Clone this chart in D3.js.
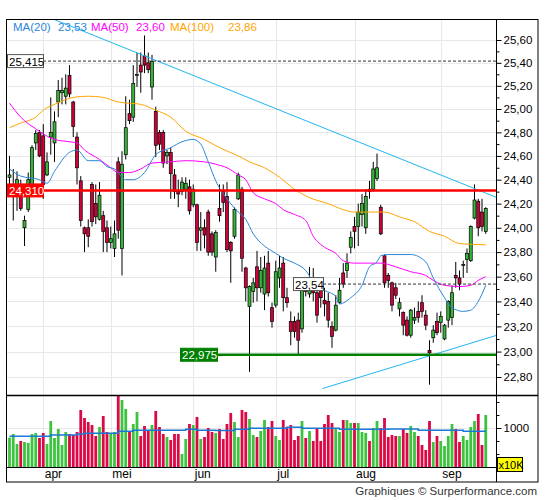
<!DOCTYPE html>
<html>
<head>
<meta charset="utf-8">
<script src="https://cdn.jsdelivr.net/npm/d3@7"></script>
<style>
body { margin: 0; background: #fff; }
text { font-family: "Liberation Sans", Arial, sans-serif; }
</style>
</head>
<body>
<svg width="545" height="500"></svg>
<script>
// daily candles, one row per trading day: [open, high, low, close]
var candles = [
  [24.42,24.60,24.26,24.44],[24.26,24.49,24.06,24.35],[24.28,24.47,24.14,24.40],[24.29,24.40,24.14,24.16],
  [24.00,24.10,23.85,24.06],[24.15,24.46,24.13,24.40],[24.32,24.69,24.30,24.67],[24.71,24.82,24.65,24.79],
  [24.80,24.82,24.59,24.60],[24.77,24.87,24.24,24.36],[24.44,24.63,24.43,24.55],[24.76,25.10,24.61,24.80],
  [24.71,24.98,24.55,24.89],[25.06,25.25,24.93,25.16],[25.14,25.27,25.04,25.16],[25.11,25.30,25.04,25.18],
  [25.29,25.38,25.10,25.13],[25.06,25.07,24.76,24.85],[24.76,24.80,24.36,24.50],[24.39,24.43,24.01,24.06],
  [24.00,24.01,23.80,23.95],[24.00,24.07,23.84,23.93],[24.36,24.38,24.01,24.05],[24.20,24.36,24.03,24.09],
  [24.07,24.38,24.06,24.27],[24.10,24.14,23.80,23.97],[24.00,24.06,23.80,23.88],[23.88,24.01,23.83,23.91],
  [23.83,24.06,23.76,23.95],[24.55,24.59,23.91,23.98],[23.83,24.64,23.61,24.53],[24.61,25.11,24.57,24.84],
  [24.96,25.08,24.87,24.90],[24.93,25.38,24.89,25.22],[25.29,25.49,25.19,25.30],[25.38,25.49,25.14,25.32],
  [25.46,25.64,25.31,25.38],[25.40,25.49,25.31,25.34],[25.19,25.47,25.08,25.41],[24.98,25.02,24.59,24.69],
  [24.80,24.82,24.65,24.70],[24.80,24.82,24.50,24.54],[24.60,24.65,24.53,24.63],[24.63,24.67,24.24,24.45],
  [24.44,24.49,24.24,24.30],[24.30,24.40,24.17,24.28],[24.30,24.42,24.27,24.38],[24.32,24.42,24.24,24.37],
  [24.34,24.40,24.11,24.14],[24.19,24.36,24.17,24.32],[24.19,24.20,23.81,23.88],[23.98,24.13,23.81,24.00],
  [24.00,24.07,23.83,23.94],[24.13,24.15,23.77,23.80],[23.95,23.97,23.77,23.80],[23.76,23.98,23.64,23.96],
  [24.16,24.36,24.05,24.10],[24.30,24.36,24.13,24.21],[24.26,24.38,23.80,23.82],[23.88,23.89,23.55,23.81],
  [23.93,24.17,23.91,24.15],[24.24,24.46,24.23,24.44],[24.32,24.34,23.64,23.75],[23.67,23.68,23.40,23.51],
  [23.36,23.53,22.84,23.52],[23.48,23.59,23.39,23.55],[23.68,23.81,23.40,23.51],[23.51,23.76,23.47,23.65],
  [23.46,23.77,23.33,23.67],[23.71,23.81,23.44,23.47],[23.35,23.39,23.19,23.24],[23.37,23.73,23.35,23.64],
  [23.59,23.77,23.51,23.67],[23.71,23.76,23.32,23.43],[23.43,23.51,23.35,23.39],[23.24,23.32,23.05,23.16],
  [23.24,23.28,23.11,23.16],[23.25,23.31,22.98,23.09],[23.18,23.56,23.15,23.49],[23.50,23.59,23.44,23.48],
  [23.46,23.68,23.43,23.51],[23.51,23.67,23.40,23.47],[23.47,23.53,23.23,23.29],[23.49,23.51,23.35,23.43],
  [23.41,23.51,23.28,23.38],[23.40,23.47,23.19,23.25],[23.20,23.24,23.03,23.12],[23.17,23.45,23.16,23.37],
  [23.39,23.59,23.38,23.49],[23.63,23.71,23.51,23.54],[23.65,23.79,23.59,23.71],[23.84,23.97,23.79,23.92],
  [24.01,24.09,23.83,23.97],[24.01,24.20,23.85,24.13],[24.11,24.28,24.01,24.20],[24.00,24.32,23.95,24.26],
  [24.32,24.39,24.24,24.30],[24.32,24.55,24.30,24.49],[24.41,24.62,24.39,24.50],[24.17,24.19,23.94,23.95],
  [23.77,23.78,23.51,23.55],[23.61,23.63,23.51,23.57],[23.55,23.56,23.32,23.37],[23.51,23.55,23.42,23.45],
  [23.34,23.43,23.28,23.39],[23.31,23.32,23.13,23.21],[23.25,23.28,23.12,23.13],[23.13,23.34,23.11,23.33],
  [23.25,23.35,23.22,23.27],[23.32,23.40,23.23,23.27],[23.39,23.45,23.27,23.32],[23.29,23.33,23.17,23.21],
  [23.01,23.09,22.74,22.99],[23.11,23.21,23.07,23.17],[23.24,23.31,23.13,23.15],[23.23,23.32,23.15,23.28],
  [23.10,23.22,23.09,23.21],[23.25,23.41,23.19,23.40],[23.27,23.53,23.21,23.47],[23.61,23.72,23.51,23.59],
  [23.59,23.65,23.49,23.54],[23.69,23.73,23.59,23.70],[23.74,23.83,23.63,23.79],[23.73,24.02,23.72,24.01],
  [24.08,24.36,24.07,24.23],[24.22,24.24,23.93,24.00],[24.13,24.24,23.97,24.01],[23.97,24.17,23.95,24.16]
];

// volume per day, in units of 10K shares
var volumes = [
  752,846,590,667,641,615,846,872,744,872,590,1179,744,974,564,897,846,820,897,1462,
  1256,1154,1077,795,1026,1308,897,872,897,1846,1718,1487,923,1103,1410,795,1051,949,1077,1436,
  1026,846,769,692,846,846,333,718,1103,1077,1282,718,769,1000,897,872,974,718,1103,1385,
  1154,769,1462,1410,1231,820,769,923,1205,1026,1179,795,692,1205,1026,1077,692,795,1179,744,
  923,667,1000,667,1103,1333,1128,1000,897,1205,1205,1128,1128,1128,897,872,667,1000,1179,1000,
  1256,769,820,795,795,974,872,1051,897,795,564,436,1179,641,795,667,538,795,1103,974,
  641,795,692,1026,1179,1359,564,1333
];

// moving averages: [day index, value]
var ma20 = [[0,24.49],[3,24.43],[8,24.40],[10,24.37],[12,24.47],[16,24.63],[18,24.65],[21,24.56],
  [24,24.56],[26,24.51],[28,24.49],[31,24.40],[33,24.40],[36,24.46],[39,24.61],[43,24.67],[46,24.72],
  [49,24.74],[51,24.70],[53,24.55],[55,24.39],[58,24.24],[61,24.13],[63,24.07],[65,23.95],[68,23.85],
  [71,23.79],[73,23.75],[76,23.71],[79,23.65],[81,23.56],[84,23.49],[87,23.44],[88,23.38],[91,23.43],
  [94,23.53],[96,23.68],[98,23.72],[99,23.77],[101,23.78],[107,23.78],[111,23.72],[113,23.59],
  [116,23.43],[118,23.35],[121,23.32],[123,23.33],[125,23.40],[127,23.53]];
var ma50 = [[0,25.05],[3,24.93],[7,24.83],[12,24.74],[16,24.72],[18,24.71],[20,24.65],[24,24.57],
  [27,24.50],[29,24.46],[32,24.46],[35,24.49],[38,24.54],[43,24.55],[47,24.56],[52,24.55],[55,24.53],
  [58,24.50],[61,24.44],[63,24.40],[65,24.29],[68,24.24],[71,24.20],[73,24.15],[76,24.11],[79,24.06],
  [81,23.93],[84,23.84],[87,23.79],[89,23.73],[92,23.71],[96,23.71],[99,23.71],[103,23.68],[107,23.64],
  [111,23.61],[113,23.57],[116,23.53],[120,23.52],[123,23.53],[125,23.57],[127,23.60]];
var ma100 = [[0,24.84],[3,24.88],[7,24.93],[9,24.99],[12,25.04],[15,25.08],[17,25.10],[21,25.11],
  [25,25.10],[29,25.06],[35,25.04],[39,24.99],[43,24.93],[47,24.81],[52,24.74],[56,24.67],[61,24.60],
  [64,24.55],[68,24.50],[72,24.42],[76,24.32],[80,24.25],[85,24.20],[89,24.15],[92,24.13],[97,24.13],
  [100,24.13],[104,24.09],[108,24.05],[112,23.97],[116,23.93],[120,23.87],[127,23.86]];
var volMa = [[0,787],[11,820],[18,846],[20,864],[29,915],[33,941],[47,967],[50,941],[55,935],[60,967],
  [64,992],[74,1018],[78,992],[88,967],[101,975],[109,941],[121,915],[127,915]];

// trend lines: [day index, price]
var trendHigh = [[12,25.78],[130,24.25]];
var trendLow = [[83.5,22.71],[130,23.13]];

// horizontal levels and their tags
var levels = [25.415, 24.31, 23.54, 22.975];
var levelLabels = ['25,415', '24,310', '23,54', '22,975'];

var priceTicks = [22.8,23.0,23.2,23.4,23.6,23.8,24.0,24.2,24.4,24.6,24.8,25.0,25.2,25.4,25.6];
var priceMinor = [22.9,23.1,23.3,23.5,23.7,23.9,24.1,24.3,24.5,24.7,24.9,25.1,25.3,25.5];
var volTicks = [1000];
var volMinor = [333, 667, 1333, 1667];

var monthStart = [9, 27, 49, 71, 92, 115];
var monthNames = ['apr', 'mei', 'jun', 'jul', 'aug', 'sep'];

var svg = d3.select('svg');
var green = '#37b43a', red = '#d00038';
var volGreen = '#3cc43f', volRed = '#dc0846';
var comma = function(d){ return d3.format('.2f')(d).replace('.', ','); };

var x = d3.scaleLinear().domain([0, candles.length - 1]).range([9.5, 485.75]);
var y = d3.scaleLog().domain([22.8, 25.6]).range([377, 40]);
var yv = d3.scaleLinear().domain([0, 1000]).range([467, 428]);

svg.append('rect').attr('width', 545).attr('height', 500).attr('fill', '#fff');

svg.append('clipPath').attr('id', 'plot')
  .append('rect').attr('x', 7).attr('y', 20).attr('width', 489).attr('height', 375);

// grid
var grid = svg.append('g').attr('stroke', '#e8e8e8').attr('stroke-width', 1);
grid.selectAll('.hg').data(priceTicks).enter().append('line')
  .attr('x1', 7).attr('x2', 496)
  .attr('y1', function(d){ return Math.round(y(d)) + 0.5; })
  .attr('y2', function(d){ return Math.round(y(d)) + 0.5; });
grid.selectAll('.vg').data(monthStart).enter().append('line')
  .attr('y1', 20).attr('y2', 467)
  .attr('x1', function(d){ return Math.round(x(d)) + 0.5; })
  .attr('x2', function(d){ return Math.round(x(d)) + 0.5; });
grid.selectAll('.vol').data(volTicks).enter().append('line')
  .attr('x1', 7).attr('x2', 496)
  .attr('y1', function(d){ return Math.round(yv(d)) + 0.5; })
  .attr('y2', function(d){ return Math.round(yv(d)) + 0.5; });

// volume bars
svg.append('g').selectAll('rect').data(volumes).enter().append('rect')
  .attr('x', function(d, i){ return x(i) - 1.4; })
  .attr('width', 2.8)
  .attr('y', function(d){ return yv(d); })
  .attr('height', function(d){ return 467 - yv(d); })
  .attr('fill', function(d, i){ return candles[i][3] >= candles[i][0] ? volGreen : volRed; });

svg.append('path')
  .datum(volMa)
  .attr('fill', 'none').attr('stroke', '#1a78d4').attr('stroke-width', 1.5)
  .attr('d', d3.line().x(function(d){ return x(d[0]); }).y(function(d){ return yv(d[1]); })
    .curve(d3.curveStepAfter));

// price panel
var plot = svg.append('g').attr('clip-path', 'url(#plot)');

var cg = plot.append('g');
cg.selectAll('line').data(candles).enter().append('line')
  .attr('x1', function(d, i){ return x(i); })
  .attr('x2', function(d, i){ return x(i); })
  .attr('y1', function(d){ return y(d[1]); })
  .attr('y2', function(d){ return y(d[2]); })
  .attr('stroke', '#000').attr('stroke-width', 1);
cg.selectAll('rect').data(candles).enter().append('rect')
  .attr('x', function(d, i){ return x(i) - 1.5; })
  .attr('width', 3)
  .attr('y', function(d){ return y(Math.max(d[0], d[3])); })
  .attr('height', function(d){ return Math.max(1, Math.abs(y(d[0]) - y(d[3]))); })
  .attr('fill', function(d){ return d[3] >= d[0] ? green : red; })
  .attr('stroke', '#000').attr('stroke-width', 0.7);

var maLine = d3.line()
  .x(function(d){ return x(d[0]); })
  .y(function(d){ return y(d[1]); })
  .curve(d3.curveMonotoneX);
var mas = [[ma100, '#ffa500'], [ma50, '#ff00ff'], [ma20, '#2a86dc']];
mas.forEach(function(m){
  plot.append('path').datum(m[0])
    .attr('fill', 'none').attr('stroke', m[1]).attr('stroke-width', 1)
    .attr('d', maLine);
});

var straight = d3.line().x(function(d){ return x(d[0]); }).y(function(d){ return y(d[1]); });
[trendHigh, trendLow].forEach(function(t){
  plot.append('path').datum(t)
    .attr('fill', 'none').attr('stroke', '#1fb6f0').attr('stroke-width', 1)
    .attr('d', straight);
});

// horizontal levels
var ly = levels.map(function(d){ return y(d); });
plot.append('line').attr('x1', 43).attr('x2', 496).attr('y1', ly[0]).attr('y2', ly[0])
  .attr('stroke', '#333').attr('stroke-dasharray', '3,2');
plot.append('line').attr('x1', 7).attr('x2', 496).attr('y1', ly[1]).attr('y2', ly[1])
  .attr('stroke', '#ff0000').attr('stroke-width', 2.6);
plot.append('line').attr('x1', 323).attr('x2', 496).attr('y1', ly[2]).attr('y2', ly[2])
  .attr('stroke', '#333').attr('stroke-dasharray', '3,2');
plot.append('line').attr('x1', 217).attr('x2', 496).attr('y1', ly[3]).attr('y2', ly[3])
  .attr('stroke', '#008000').attr('stroke-width', 2.6);

var tags = [
  {x: 7, w: 36, fill: '#fff', stroke: '#555', color: '#000'},
  {x: 7, w: 36, fill: '#ff0000', stroke: '#ff0000', color: '#fff'},
  {x: 293, w: 30, fill: '#fff', stroke: '#555', color: '#000'},
  {x: 180, w: 37, fill: '#008000', stroke: '#008000', color: '#fff'}
];
tags.forEach(function(t, i){
  var g = svg.append('g');
  g.append('rect').attr('x', t.x + 0.5).attr('y', ly[i] - 6.5).attr('width', t.w).attr('height', 13)
    .attr('fill', t.fill).attr('stroke', t.stroke).attr('stroke-width', 1);
  g.append('text').attr('x', t.x + 2).attr('y', ly[i] + 4.5)
    .attr('font-size', 11.5).attr('fill', t.color).text(levelLabels[i]);
});

// legend
var legend = [
  ['MA(20)', 13, '#2a86dc'], [comma(ma20[ma20.length - 1][1]), 58, '#2a86dc'],
  ['MA(50)', 91, '#ff00ff'], [comma(ma50[ma50.length - 1][1]), 136, '#ff00ff'],
  ['MA(100)', 170, '#ffa500'], [comma(ma100[ma100.length - 1][1]), 228, '#ffa500']
];
svg.append('g').selectAll('text').data(legend).enter().append('text')
  .attr('x', function(d){ return d[1]; }).attr('y', 31)
  .attr('font-size', 11.5).attr('fill', function(d){ return d[2]; })
  .text(function(d){ return d[0]; });

// frame and panel separators
svg.append('rect').attr('x', 6.5).attr('y', 19.5).attr('width', 531.5).attr('height', 462.5)
  .attr('fill', 'none').attr('stroke', '#000');
svg.append('line').attr('x1', 496.5).attr('x2', 496.5).attr('y1', 19.5).attr('y2', 482)
  .attr('stroke', '#000');
svg.append('line').attr('x1', 6.5).attr('x2', 538).attr('y1', 395.5).attr('y2', 395.5)
  .attr('stroke', '#000').attr('stroke-width', 1.5);
svg.append('line').attr('x1', 6.5).attr('x2', 496.5).attr('y1', 467.5).attr('y2', 467.5)
  .attr('stroke', '#000');

// right axes
function styleAxis(g){
  g.select('.domain').remove();
  g.selectAll('line').attr('stroke', '#000');
  g.selectAll('text').attr('font-size', 11.5).attr('fill', '#000')
    .attr('font-family', '"Liberation Sans", Arial, sans-serif');
}
svg.append('g').attr('transform', 'translate(496.5,0)')
  .call(d3.axisRight(y).tickValues(priceTicks).tickSize(5).tickPadding(2).tickFormat(comma))
  .call(styleAxis);
svg.append('g').attr('transform', 'translate(496.5,0)')
  .call(d3.axisRight(y).tickValues(priceMinor).tickSize(3).tickFormat(''))
  .call(styleAxis);
svg.append('g').attr('transform', 'translate(496.5,0)')
  .call(d3.axisRight(yv).tickValues(volTicks).tickSize(5).tickPadding(2).tickFormat(d3.format('d')))
  .call(styleAxis);
svg.append('g').attr('transform', 'translate(496.5,0)')
  .call(d3.axisRight(yv).tickValues(volMinor).tickSize(3).tickFormat(''))
  .call(styleAxis);

svg.append('rect').attr('x', 497.5).attr('y', 457.5).attr('width', 25).attr('height', 14)
  .attr('fill', '#ffff00').attr('stroke', '#000');
svg.append('text').attr('x', 498.5).attr('y', 468.5).attr('font-size', 11).attr('fill', '#000').text('x10K');

// month labels
svg.append('g').selectAll('text').data(monthStart).enter().append('text')
  .attr('x', function(d){ return x(d) + 1.5; }).attr('y', 477.5)
  .attr('font-size', 12).attr('fill', '#000')
  .text(function(d, i){ return monthNames[i]; });

svg.append('text').attr('x', 537).attr('y', 495).attr('text-anchor', 'end')
  .attr('font-size', 11.5).attr('fill', '#333').text('Graphiques \u00a9 Surperformance.com');
</script>
</body>
</html>
